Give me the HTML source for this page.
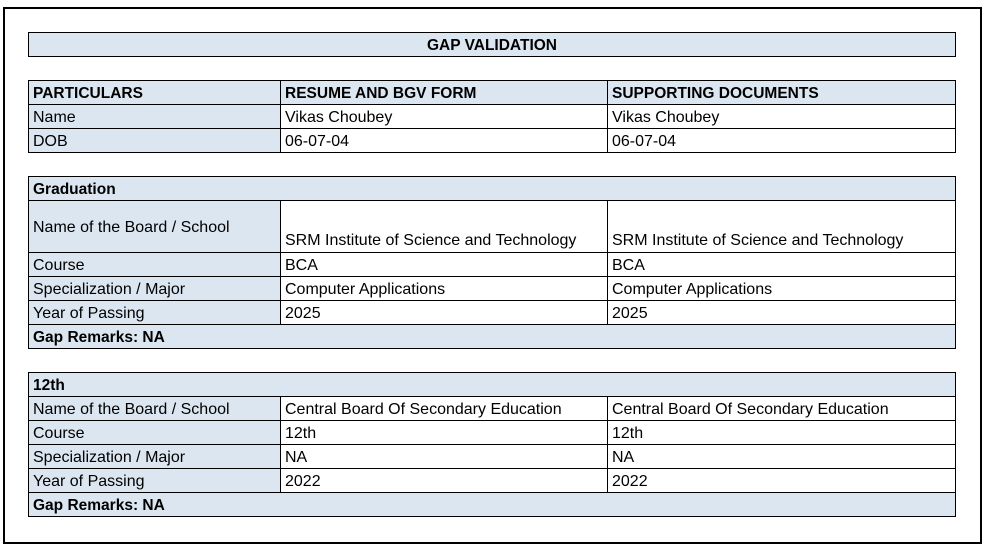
<!DOCTYPE html>
<html><head><meta charset="utf-8"><style>
body{margin:0;width:992px;height:547px;background:#fff;position:relative;overflow:hidden;font-family:"Liberation Sans",Arial,sans-serif;font-size:16px;color:#000}
.o{position:absolute;left:3px;top:7px;width:979px;height:537px;border:2px solid #000;box-sizing:border-box}
.c{position:absolute;box-sizing:border-box;border:1px solid #000;padding-left:4px;padding-top:1px;white-space:nowrap;line-height:24px;overflow:hidden}
.b{background:#dce6f1}
.h{font-weight:bold;font-size:15.5px}
</style></head><body>
<div class="o"></div>
<div class="c b h" style="left:28px;top:32px;width:928px;height:25px;text-align:center;padding-left:0">GAP VALIDATION</div>

<div class="c b h" style="left:28px;top:80px;width:253px;height:25px">PARTICULARS</div>
<div class="c b h" style="left:280px;top:80px;width:328px;height:25px">RESUME AND BGV FORM</div>
<div class="c b h" style="left:607px;top:80px;width:349px;height:25px">SUPPORTING DOCUMENTS</div>
<div class="c b" style="left:28px;top:104px;width:253px;height:25px">Name</div>
<div class="c" style="left:280px;top:104px;width:328px;height:25px">Vikas Choubey</div>
<div class="c" style="left:607px;top:104px;width:349px;height:25px">Vikas Choubey</div>
<div class="c b" style="left:28px;top:128px;width:253px;height:25px">DOB</div>
<div class="c" style="left:280px;top:128px;width:328px;height:25px">06-07-04</div>
<div class="c" style="left:607px;top:128px;width:349px;height:25px">06-07-04</div>

<div class="c b h" style="left:28px;top:176px;width:928px;height:25px">Graduation</div>
<div class="c b" style="left:28px;top:200px;width:253px;height:53px;line-height:52px">Name of the Board / School</div>
<div class="c" style="left:280px;top:200px;width:328px;height:53px;padding-top:28px">SRM Institute of Science and Technology</div>
<div class="c" style="left:607px;top:200px;width:349px;height:53px;padding-top:28px">SRM Institute of Science and Technology</div>
<div class="c b" style="left:28px;top:252px;width:253px;height:25px">Course</div>
<div class="c" style="left:280px;top:252px;width:328px;height:25px">BCA</div>
<div class="c" style="left:607px;top:252px;width:349px;height:25px">BCA</div>
<div class="c b" style="left:28px;top:276px;width:253px;height:25px">Specialization / Major</div>
<div class="c" style="left:280px;top:276px;width:328px;height:25px">Computer Applications</div>
<div class="c" style="left:607px;top:276px;width:349px;height:25px">Computer Applications</div>
<div class="c b" style="left:28px;top:300px;width:253px;height:25px">Year of Passing</div>
<div class="c" style="left:280px;top:300px;width:328px;height:25px">2025</div>
<div class="c" style="left:607px;top:300px;width:349px;height:25px">2025</div>
<div class="c b h" style="left:28px;top:324px;width:928px;height:25px">Gap Remarks: NA</div>

<div class="c b h" style="left:28px;top:372px;width:928px;height:25px">12th</div>
<div class="c b" style="left:28px;top:396px;width:253px;height:25px">Name of the Board / School</div>
<div class="c" style="left:280px;top:396px;width:328px;height:25px">Central Board Of Secondary Education</div>
<div class="c" style="left:607px;top:396px;width:349px;height:25px">Central Board Of Secondary Education</div>
<div class="c b" style="left:28px;top:420px;width:253px;height:25px">Course</div>
<div class="c" style="left:280px;top:420px;width:328px;height:25px">12th</div>
<div class="c" style="left:607px;top:420px;width:349px;height:25px">12th</div>
<div class="c b" style="left:28px;top:444px;width:253px;height:25px">Specialization / Major</div>
<div class="c" style="left:280px;top:444px;width:328px;height:25px">NA</div>
<div class="c" style="left:607px;top:444px;width:349px;height:25px">NA</div>
<div class="c b" style="left:28px;top:468px;width:253px;height:25px">Year of Passing</div>
<div class="c" style="left:280px;top:468px;width:328px;height:25px">2022</div>
<div class="c" style="left:607px;top:468px;width:349px;height:25px">2022</div>
<div class="c b h" style="left:28px;top:492px;width:928px;height:25px">Gap Remarks: NA</div>
</body></html>
